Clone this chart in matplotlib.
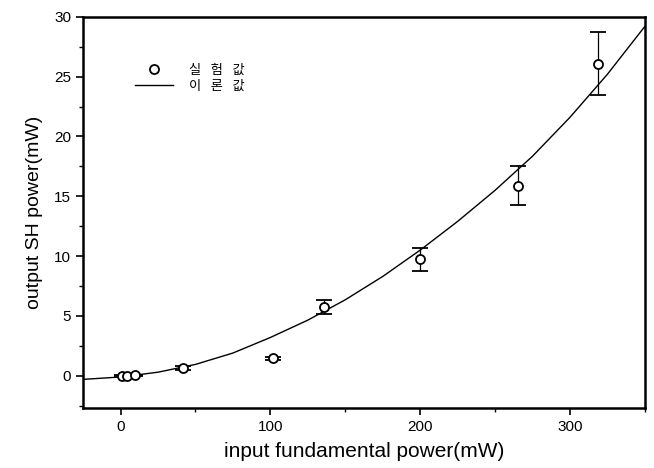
import numpy as np
import matplotlib.pyplot as plt
from matplotlib.ticker import MultipleLocator
from matplotlib.lines import Line2D

plt.rcParams['font.family'] = ['Liberation Sans', 'Noto Sans CJK KR', 'DejaVu Sans']

x_meas = [1, 4, 10, 42, 102, 136, 200, 265, 319]
y_meas = [0.0, 0.0, 0.05, 0.65, 1.45, 5.75, 9.75, 15.9, 26.1]
err_lo = [0.05, 0.05, 0.05, 0.15, 0.15, 0.6, 0.95, 1.6, 2.6]
err_hi = [0.05, 0.05, 0.05, 0.15, 0.15, 0.55, 0.95, 1.6, 2.6]

# theoretical curve
x_theory = [-25, 0, 25, 50, 75, 100, 125, 150, 175, 200, 225, 250, 275, 300, 325, 350]
y_theory = [-0.3, -0.1, 0.3, 0.95, 1.9, 3.2, 4.65, 6.35, 8.3, 10.5, 12.9, 15.5, 18.35, 21.6, 25.2, 29.2]

legend_labels = ['실 \u2002험 \u2002값', '이 \u2002론 \u2002값']

fig = plt.figure(figsize=(6.54, 4.68), dpi=100)
ax = fig.add_axes([0.127, 0.128, 0.859, 0.836])

ax.plot(x_theory, y_theory, color='black', linewidth=1.0)
ax.errorbar(x_meas, y_meas, yerr=[err_lo, err_hi], fmt='o', mfc='white', mec='black',
            ms=6.5, mew=1.3, ecolor='black', elinewidth=0.9, capsize=5.5, capthick=0.9)

ax.set_xlim(-25, 350)
ax.set_ylim(-2.7, 30)
ax.xaxis.set_major_locator(MultipleLocator(100))
ax.xaxis.set_minor_locator(MultipleLocator(50))
ax.yaxis.set_major_locator(MultipleLocator(5))
ax.yaxis.set_minor_locator(MultipleLocator(2.5))
ax.tick_params(which='major', direction='out', length=5, width=1.2, labelsize=11)
ax.tick_params(which='minor', direction='out', length=3, width=1.0)
for s in ax.spines.values():
    s.set_linewidth(1.8)

ax.set_xlabel('input fundamental power(mW)', fontsize=15, labelpad=6)
ax.set_ylabel('output SH power(mW)', fontsize=14, labelpad=8)

handles = [Line2D([], [], ls='none', marker='o', mfc='white', mec='black', ms=6.5, mew=1.3),
           Line2D([], [], color='black', linewidth=1.0)]
ax.legend(handles, legend_labels, loc='upper left', bbox_to_anchor=(0.0925, 0.88),
          frameon=False, borderpad=0, borderaxespad=0, handlelength=2.9,
          handletextpad=1.2, labelspacing=0.25,
          prop={'family': ['Noto Sans CJK KR'], 'size': 9.5})

fig.savefig('out.png', dpi=100)
